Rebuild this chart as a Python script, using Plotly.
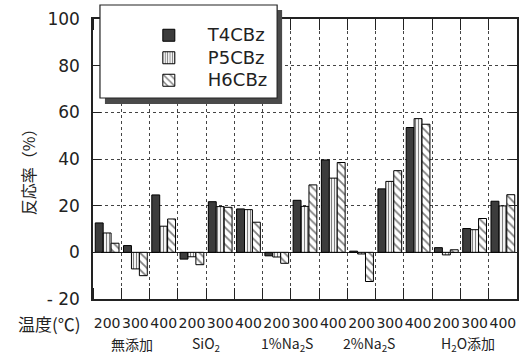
import plotly.graph_objects as go

# Reaction temperature (°C) for each bar group, and the additive condition per block of three
temps = ["200", "300", "400"] * 5
additives = ["無添加", "SiO<sub>2</sub>", "1%Na<sub>2</sub>S", "2%Na<sub>2</sub>S", "H<sub>2</sub>O添加"]

# Conversion (%) per compound
t4cbz = [12.6, 2.9, 24.6, -2.9, 21.7, 18.6, -1.5, 22.3, 39.6, 0.5, 27.2, 53.5, 2.0, 10.2, 21.9]
p5cbz = [8.3, -7.1, 11.2, -1.9, 19.6, 18.3, -2.0, 19.7, 31.8, -0.7, 30.4, 57.3, -1.1, 9.7, 19.9]
h6cbz = [3.9, -10.0, 14.3, -5.3, 19.3, 12.9, -4.7, 28.9, 38.5, -12.5, 35.0, 54.9, 1.1, 14.5, 24.7]

y_ticks = [-20, 0, 20, 40, 60, 80, 100]
y_ticktext = ["- 20", "0", "20", "40", "60", "80", "100"]

W, H = 527, 355
L, R, T, B = 93, 8, 19, 56
PW, PH = W - L - R, H - T - B


def px(x):
    return (x - L) / PW


def py(y):
    return (H - B - y) / PH


def legend_name(s):
    return f"<span style='font-size:18px'>{s}</span>"


xs = list(range(len(temps)))
font_num = "DejaVu Sans"
font_jp = "Noto Sans CJK JP"

fig = go.Figure()
fig.add_bar(
    x=xs, y=t4cbz, name=legend_name("T4CBz"),
    marker=dict(color="#3c3c3c", line=dict(color="black", width=1)),
)
fig.add_bar(
    x=xs, y=p5cbz, name=legend_name("P5CBz"),
    marker=dict(color="white", line=dict(color="black", width=1),
                pattern=dict(shape="|", size=3, solidity=0.4,
                             fgcolor="black", bgcolor="white", fillmode="overlay")),
)
fig.add_bar(
    x=xs, y=h6cbz, name=legend_name("H6CBz"),
    marker=dict(color="white", line=dict(color="black", width=1),
                pattern=dict(shape="\\", size=6, solidity=0.3,
                             fgcolor="black", bgcolor="white", fillmode="overlay")),
)

fig.update_layout(
    width=W, height=H,
    margin=dict(l=L, r=R, t=T, b=B),
    paper_bgcolor="white", plot_bgcolor="white",
    barmode="group", bargap=0.16, bargroupgap=0,
    showlegend=True,
    legend=dict(
        x=px(130), y=py(19), xanchor="left", yanchor="top",
        bgcolor="rgba(0,0,0,0)", borderwidth=0,
        font=dict(family=font_num, size=15, color="#222"),
        itemwidth=68,
    ),
    font=dict(family=font_num, color="#222"),
)

fig.update_xaxes(
    range=[-0.5, len(temps) - 0.5],
    tickmode="array", tickvals=xs, ticktext=temps, tickangle=0,
    ticks="", showgrid=False, zeroline=False,
    tickfont=dict(family=font_num, size=14, color="#222"),
    ticklabelstandoff=10,
    showline=True, linecolor="#222", linewidth=1.5, mirror="ticks",
    minor=dict(tick0=0.5, dtick=1, ticks="inside", ticklen=11, tickcolor="#222",
               tickwidth=1, showgrid=True, gridcolor="#444", griddash="dot", gridwidth=1),
)
fig.update_yaxes(
    range=[-20, 100],
    tickmode="array", tickvals=y_ticks, ticktext=y_ticktext,
    ticks="inside", ticklen=8, tickcolor="#222", tickwidth=1,
    showgrid=True, gridcolor="#444", griddash="dot", gridwidth=1,
    zeroline=True, zerolinecolor="#222", zerolinewidth=1.2,
    tickfont=dict(family=font_num, size=17, color="#222"),
    ticklabelstandoff=8,
    showline=True, linecolor="#222", linewidth=1.5, mirror="ticks",
)

# legend frame with a drop shadow
fig.add_shape(type="rect", xref="paper", yref="paper",
              x0=px(105), x1=px(283), y0=py(104), y1=py(10),
              fillcolor="#4a4a4a", line=dict(width=0), layer="above")
fig.add_shape(type="rect", xref="paper", yref="paper",
              x0=px(100), x1=px(278), y0=py(98), y1=py(5),
              fillcolor="white", line=dict(color="#222", width=1.2), layer="above")

# axis titles
fig.add_annotation(text="反応率（%）", xref="paper", yref="paper",
                   x=px(28), y=py(168), xanchor="center", yanchor="middle",
                   textangle=-90, showarrow=False,
                   font=dict(family=font_jp, size=16, color="#222"))
fig.add_annotation(text="温度(℃)", xref="paper", yref="paper",
                   x=px(83), y=py(323), xanchor="right", yanchor="middle",
                   showarrow=False,
                   font=dict(family=font_jp, size=17, color="#222"))

# additive condition labels under each block of temperatures
label_x = [132, 207, 288, 370, 470]
for name, lx in zip(additives, label_x):
    fig.add_annotation(text=name, xref="paper", yref="paper",
                       x=px(lx), y=py(344), xanchor="center", yanchor="middle",
                       showarrow=False,
                       font=dict(family=font_jp, size=14, color="#222"))

fig.write_html("out.html")
